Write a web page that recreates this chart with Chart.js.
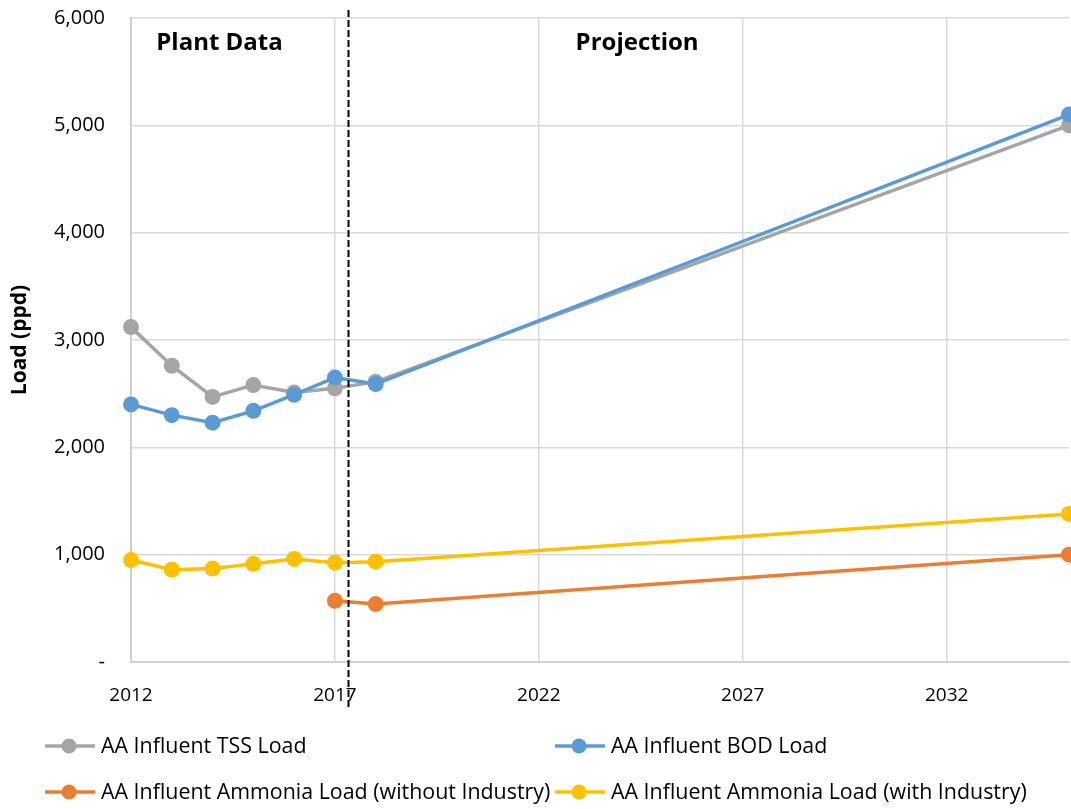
<!DOCTYPE html>
<html>
<head>
<meta charset="utf-8">
<script src="https://cdn.jsdelivr.net/npm/chart.js@4.4.1/dist/chart.umd.min.js"></script>
<style>
  html, body { margin: 0; padding: 0; background: #ffffff; }
  #wrap { width: 1071px; height: 809px; position: relative; }
</style>
</head>
<body>
<div id="wrap"><canvas id="chart" width="1071" height="809"></canvas></div>
<script>
// Influent loads (ppd) by year: plant data 2012-2018, projection to 2035
const dataYears     = [2012, 2013, 2014, 2015, 2016, 2017, 2018, 2035];
const tssLoad       = [3120, 2760, 2470, 2580, 2510, 2550, 2610, 5000];
const bodLoad       = [2400, 2300, 2230, 2340, 2490, 2650, 2590, 5100];
const nh3WithInd    = [950, 860, 870, 915, 960, 925, 935, 1380];
const nh3NoIndYears = [2017, 2018, 2035];
const nh3WithoutInd = [570, 540, 1000];

const seriesNames = [
  'AA Influent TSS Load',
  'AA Influent BOD Load',
  'AA Influent Ammonia Load (without Industry)',
  'AA Influent Ammonia Load (with Industry)'
];
const seriesColors = ['#A5A5A5', '#5B9BD5', '#ED7D31', '#FFC000'];

const xTicks = [2012, 2017, 2022, 2027, 2032];
const yTicks = [0, 1000, 2000, 3000, 4000, 5000, 6000];
const separatorYear = 2017.32;
const periodLabels = [
  { text: 'Plant Data', x: 2014.17, y: 5770 },
  { text: 'Projection', x: 2024.41, y: 5770 }
];

const pts = (xs, ys) => xs.map((x, i) => ({ x: x, y: ys[i] }));

function lineSet(idx, data, order) {
  return {
    label: seriesNames[idx],
    data: data,
    borderColor: seriesColors[idx],
    backgroundColor: seriesColors[idx],
    pointBackgroundColor: seriesColors[idx],
    pointBorderColor: seriesColors[idx],
    pointBorderWidth: 0,
    pointRadius: 8,
    pointHoverRadius: 8,
    borderWidth: 3.5,
    tension: 0,
    clip: false,
    order: order
  };
}

// dashed divider, period captions and the two-column legend
const overlay = {
  id: 'overlay',
  afterDatasetsDraw(chart) {
    const ctx = chart.ctx;
    const xs = chart.scales.x, ys = chart.scales.y;
    ctx.save();
    const sx = Math.round(xs.getPixelForValue(separatorYear)) + 0.5;
    ctx.strokeStyle = '#000000';
    ctx.lineWidth = 2;
    ctx.setLineDash([7, 3]);
    ctx.beginPath();
    ctx.moveTo(sx, 10);
    ctx.lineTo(sx, chart.chartArea.bottom + 46);
    ctx.stroke();
    ctx.setLineDash([]);

    ctx.fillStyle = '#000000';
    ctx.font = 'bold 24px "Open Sans"';
    ctx.textAlign = 'center';
    ctx.textBaseline = 'middle';
    periodLabels.forEach(p => {
      ctx.fillText(p.text, xs.getPixelForValue(p.x), ys.getPixelForValue(p.y));
    });

    // legend
    const cols = [45, 555];
    const rows = [746, 792];
    ctx.font = '21.4px "Open Sans"';
    ctx.textAlign = 'left';
    seriesNames.forEach((name, i) => {
      const lx = cols[i % 2], ly = rows[Math.floor(i / 2)];
      ctx.strokeStyle = seriesColors[i];
      ctx.fillStyle = seriesColors[i];
      ctx.lineWidth = 3.5;
      ctx.beginPath();
      ctx.moveTo(lx, ly);
      ctx.lineTo(lx + 50, ly);
      ctx.stroke();
      ctx.beginPath();
      ctx.arc(lx + 24, ly, 7.5, 0, Math.PI * 2);
      ctx.fill();
      ctx.fillStyle = '#000000';
      ctx.fillText(name, lx + 56, ly + 1);
    });
    ctx.restore();
  }
};

new Chart(document.getElementById('chart'), {
  type: 'line',
  data: {
    datasets: [
      lineSet(0, pts(dataYears, tssLoad), 1),
      lineSet(1, pts(dataYears, bodLoad), 0),
      lineSet(2, pts(nh3NoIndYears, nh3WithoutInd), 2),
      lineSet(3, pts(dataYears, nh3WithInd), 3)
    ]
  },
  options: {
    responsive: false,
    animation: false,
    layout: { autoPadding: false, padding: { top: 18, right: 2, bottom: 0, left: 0 } },
    plugins: {
      legend: { display: false },
      tooltip: { enabled: false }
    },
    scales: {
      x: {
        type: 'linear',
        min: 2012,
        max: 2035,
        afterBuildTicks: s => { s.ticks = xTicks.map(v => ({ value: v })); },
        afterFit: s => { s.height = 147; },
        grid: { color: '#d9d9d9', lineWidth: 1.5, drawTicks: true, tickLength: 22, tickColor: 'rgba(0,0,0,0)' },
        border: { color: '#d0d0d0', width: 2 },
        ticks: {
          padding: 0,
          color: '#000000',
          font: { family: 'Open Sans', size: 19 },
          maxRotation: 0,
          callback: v => String(v)
        }
      },
      y: {
        min: 0,
        max: 6000,
        afterBuildTicks: s => { s.ticks = yTicks.map(v => ({ value: v })); },
        afterFit: s => { s.width = 131; },
        grid: { color: '#d9d9d9', lineWidth: 1.5, drawTicks: true, tickLength: 26, tickColor: 'rgba(0,0,0,0)' },
        border: { color: '#d0d0d0', width: 2 },
        title: {
          display: true,
          text: 'Load (ppd)',
          color: '#000000',
          font: { family: 'Open Sans', size: 21, weight: 'bold' },
          padding: { top: 7, bottom: 0 }
        },
        ticks: {
          padding: 0,
          color: '#000000',
          font: { family: 'Open Sans', size: 20 },
          callback: v => v === 0 ? '-' : v.toLocaleString('en-US')
        }
      }
    }
  },
  plugins: [overlay]
});
</script>
</body>
</html>
